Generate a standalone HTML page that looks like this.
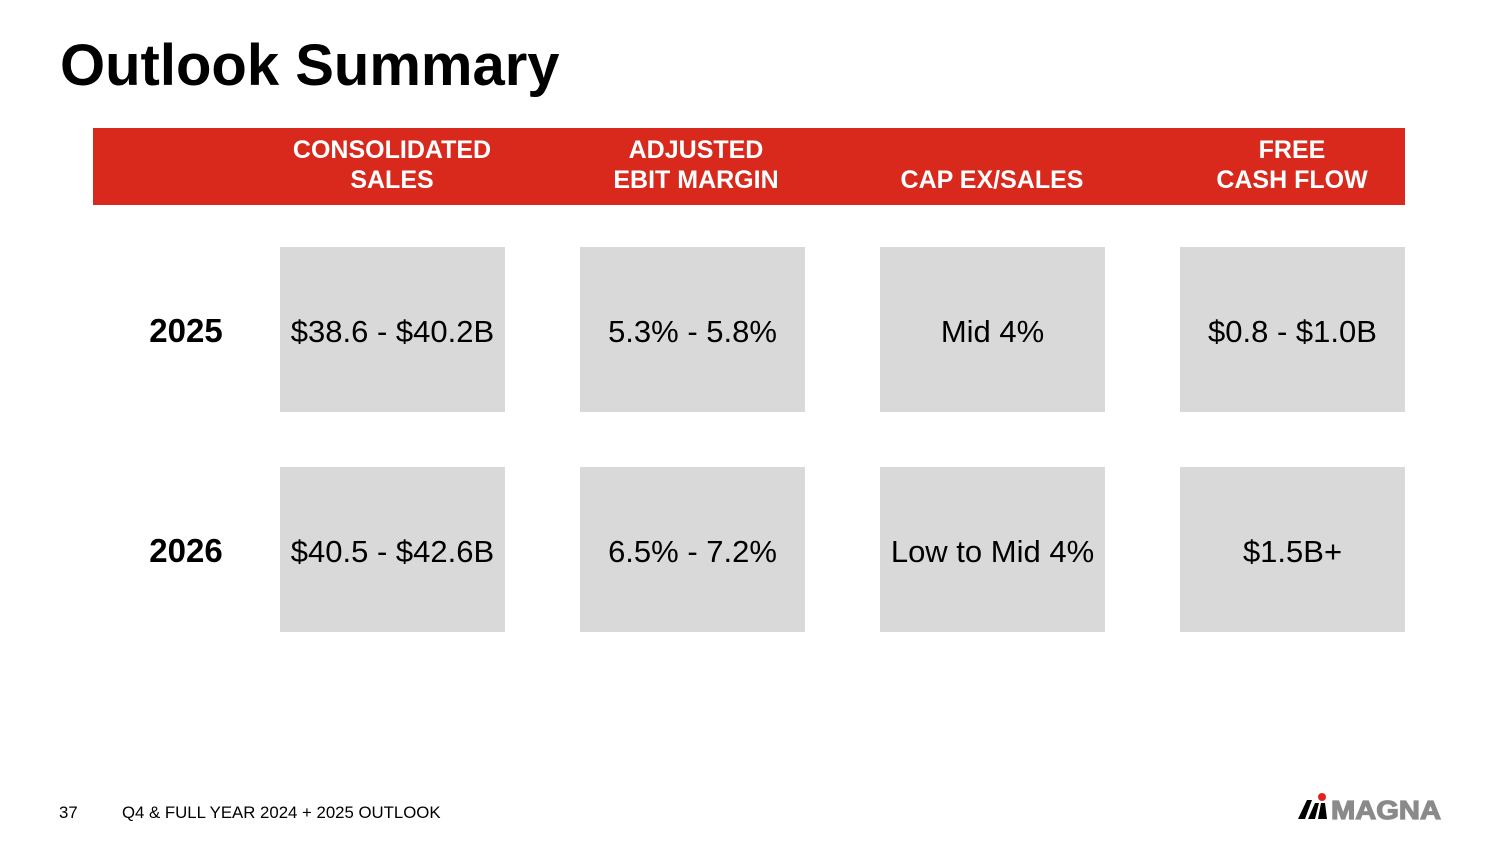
<!DOCTYPE html>
<html><head><meta charset="utf-8"><style>
body{margin:0;width:1500px;height:844px;background:#fff;font-family:"Liberation Sans",Arial,sans-serif;position:relative;overflow:hidden}
.a{position:absolute}
.title{left:60px;top:32px;font-size:58px;font-weight:bold;color:#000}
.band{left:93px;top:128px;width:1312px;height:77px;background:#d9291c}
.h{color:#fff;font-weight:bold;font-size:25px;line-height:30px;text-align:center;width:300px;top:135px}
.box{background:#d9d9d9;width:225px;height:165px;display:flex;align-items:center;justify-content:center;font-size:31px;color:#000;box-sizing:border-box;padding-top:5px}
.yr{font-size:33px;font-weight:bold;width:120px;text-align:center;left:126px}
.foot{font-size:16.8px;top:803px;color:#000}
</style></head><body>
<div class="a title">Outlook Summary</div>
<div class="a band"></div>
<div class="a h" style="left:242px">CONSOLIDATED<br>SALES</div>
<div class="a h" style="left:546px">ADJUSTED<br>EBIT MARGIN</div>
<div class="a h" style="left:842px;top:165px">CAP EX/SALES</div>
<div class="a h" style="left:1142px">FREE<br>CASH FLOW</div>
<div class="a yr" style="top:312px">2025</div>
<div class="a yr" style="top:532px">2026</div>
<div class="a box" style="left:280px;top:247px">$38.6 - $40.2B</div>
<div class="a box" style="left:580px;top:247px">5.3% - 5.8%</div>
<div class="a box" style="left:880px;top:247px">Mid 4%</div>
<div class="a box" style="left:1180px;top:247px">$0.8 - $1.0B</div>
<div class="a box" style="left:280px;top:467px">$40.5 - $42.6B</div>
<div class="a box" style="left:580px;top:467px">6.5% - 7.2%</div>
<div class="a box" style="left:880px;top:467px">Low to Mid 4%</div>
<div class="a box" style="left:1180px;top:467px">$1.5B+</div>
<div class="a foot" style="left:59px">37</div>
<div class="a foot" style="left:122px">Q4 &amp; FULL YEAR 2024 + 2025 OUTLOOK</div>
<svg class="a" style="left:1298px;top:790px" width="145" height="32">
<circle cx="24" cy="7" r="4" fill="#e0241b"/>
<polygon points="0,29 9,10 14,10 7,29" fill="#000"/>
<polygon points="10,29 17,13 21,13 17,29" fill="#000"/>
<polygon points="20,29 23,13 27,13 29,29" fill="#000"/>
<text x="33" y="29" font-family="Liberation Sans" font-weight="bold" font-size="26" fill="#8a8a8a" stroke="#8a8a8a" stroke-width="1.2" textLength="110" lengthAdjust="spacingAndGlyphs">MAGNA</text>
</svg>
</body></html>
